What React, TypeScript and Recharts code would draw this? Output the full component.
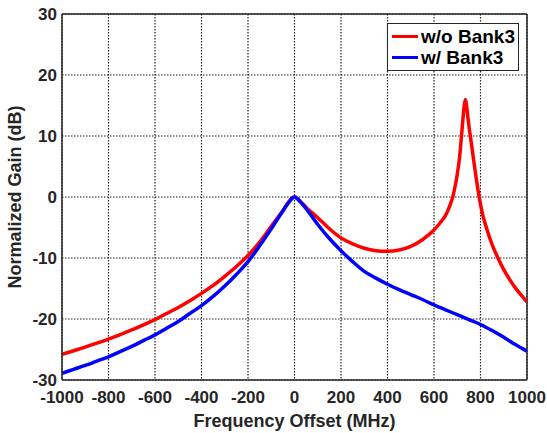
import React from 'react';
import { LineChart, Line, XAxis, YAxis, CartesianGrid, ReferenceLine } from 'recharts';

const FREQ_RED = [
  -1000, -950, -900, -850, -800, -750, -700, -650, -600, -550, -500, -450, -400, -350, -300, -250,
  -200, -150, -100, -50, -25, -10, 0, 10, 25, 50, 100, 150, 200, 250, 300, 350, 400, 450, 500, 550,
  600, 625, 650, 660, 670, 680, 690, 700, 710, 720, 725, 730, 735, 740, 745, 750, 760, 770, 780,
  790, 800, 810, 825, 850, 875, 900, 925, 950, 975, 1000,
];
const GAIN_RED = [
  -25.8, -25.2, -24.6, -23.95, -23.3, -22.55, -21.8, -20.95, -20.1, -19.1, -18.1, -17.0, -15.8,
  -14.5, -13.0, -11.4, -9.6, -7.4, -4.8, -2.2, -0.8, -0.2, 0, -0.2, -0.7, -1.7, -3.4, -5.2, -6.7,
  -7.7, -8.4, -8.8, -8.9, -8.7, -8.1, -7.0, -5.4, -4.3, -3.0, -2.2, -1.2, -0.1, 1.6, 3.7, 6.5, 10.8,
  13.0, 15.0, 16.0, 15.0, 13.3, 11.7, 9.0, 6.2, 3.5, 1.0, -1.2, -3.0, -5.0, -7.8, -10.0, -11.9,
  -13.5, -14.9, -16.1, -17.2,
];

const FREQ_BLUE = [
  -1000, -950, -900, -850, -800, -750, -700, -650, -600, -550, -500, -450, -400, -350, -300, -250,
  -200, -150, -100, -50, -25, -10, 0, 10, 25, 50, 100, 150, 200, 250, 300, 350, 400, 450, 500, 550,
  600, 650, 700, 750, 800, 850, 900, 950, 1000,
];
const GAIN_BLUE = [
  -28.9, -28.25, -27.6, -26.9, -26.2, -25.35, -24.5, -23.55, -22.6, -21.5, -20.4, -19.1, -17.8,
  -16.3, -14.6, -12.7, -10.6, -8.0, -5.2, -2.3, -0.9, -0.2, 0, -0.2, -0.8, -1.9, -4.5, -6.8, -8.8,
  -10.6, -12.2, -13.3, -14.3, -15.2, -16.0, -16.8, -17.7, -18.5, -19.3, -20.1, -20.9, -21.9, -23.0,
  -24.2, -25.3,
];

const X_TICKS = [-1000, -800, -600, -400, -200, 0, 200, 400, 600, 800, 1000];
const Y_TICKS = [-30, -20, -10, 0, 10, 20, 30];

const SERIES_NAMES = ['w/o Bank3', 'w/ Bank3'];
const SERIES_COLORS = ['#ff0000', '#0000ff'];

const redData = FREQ_RED.map((x, i) => ({ x, y: GAIN_RED[i] }));
const blueData = FREQ_BLUE.map((x, i) => ({ x, y: GAIN_BLUE[i] }));

const FONT = '"Liberation Sans", Arial, Helvetica, sans-serif';
const AXIS_COLOR = '#262626';

const YLabel = (props: any) => {
  const vb = props.viewBox || { x: 0, y: 0, width: 0, height: 0 };
  const cx = 15;
  const cy = vb.y + vb.height / 2;
  return (
    <text
      x={cx}
      y={cy}
      transform={`rotate(-90, ${cx}, ${cy})`}
      textAnchor="middle"
      dominantBaseline="central"
      fontFamily={FONT}
      fontWeight="bold"
      fontSize={18}
      fill={AXIS_COLOR}
    >
      Normalized Gain (dB)
    </text>
  );
};

const XLabel = (props: any) => {
  const vb = props.viewBox || { x: 0, y: 0, width: 0, height: 0 };
  const cx = vb.x + vb.width / 2;
  return (
    <text
      x={cx}
      y={421}
      textAnchor="middle"
      dominantBaseline="central"
      fontFamily={FONT}
      fontWeight="bold"
      fontSize={18}
      fill={AXIS_COLOR}
    >
      Frequency Offset (MHz)
    </text>
  );
};

const LegendBox = () => (
  <div
    style={{
      position: 'absolute',
      top: 23,
      left: 387,
      boxSizing: 'border-box',
      width: 132,
      height: 48,
      border: `1.5px solid ${AXIS_COLOR}`,
      background: '#fff',
      padding: '2px 0 0 4px',
      fontFamily: FONT,
      fontWeight: 'bold',
      fontSize: 19,
      color: '#000',
    }}
  >
    {SERIES_NAMES.map((name, i) => (
      <div key={name} style={{ display: 'flex', alignItems: 'center', height: 21 }}>
        <div style={{ width: 26, height: 3.5, background: SERIES_COLORS[i], marginRight: 3 }} />
        <span style={{ lineHeight: '21px' }}>{name}</span>
      </div>
    ))}
  </div>
);

export default function App() {
  const tickStyle = { fill: AXIS_COLOR, fontSize: 17, fontWeight: 'bold', fontFamily: FONT };
  return (
    <div style={{ position: 'absolute', left: 0, top: 0, width: 547, height: 433, background: '#fff' }}>
      <LineChart width={547} height={433} margin={{ top: 14, right: 20, bottom: 0, left: 0 }}>
        <CartesianGrid stroke="#222" strokeDasharray="1.5 1.5" strokeWidth={1.2} />
        <XAxis
          type="number"
          dataKey="x"
          domain={[-1000, 1000]}
          ticks={X_TICKS}
          allowDataOverflow
          height={53}
          tickLine={false}
          tickSize={0}
          tickMargin={11}
          axisLine={{ stroke: AXIS_COLOR, strokeWidth: 1.5 }}
          tick={tickStyle}
          interval={0}
          label={<XLabel />}
        />
        <YAxis
          type="number"
          domain={[-30, 30]}
          ticks={Y_TICKS}
          allowDataOverflow
          width={62}
          tickLine={false}
          tickSize={0}
          tickMargin={5}
          axisLine={{ stroke: AXIS_COLOR, strokeWidth: 1.5 }}
          tick={tickStyle}
          interval={0}
          label={<YLabel />}
        />
        <ReferenceLine y={30} stroke={AXIS_COLOR} strokeWidth={1.5} />
        <ReferenceLine x={1000} stroke={AXIS_COLOR} strokeWidth={1.5} />
        <Line
          data={redData}
          dataKey="y"
          name={SERIES_NAMES[0]}
          type="monotone"
          stroke={SERIES_COLORS[0]}
          strokeWidth={3.5}
          dot={false}
          activeDot={false}
          isAnimationActive={false}
        />
        <Line
          data={blueData}
          dataKey="y"
          name={SERIES_NAMES[1]}
          type="monotone"
          stroke={SERIES_COLORS[1]}
          strokeWidth={3.5}
          dot={false}
          activeDot={false}
          isAnimationActive={false}
        />
      </LineChart>
      <LegendBox />
    </div>
  );
}
